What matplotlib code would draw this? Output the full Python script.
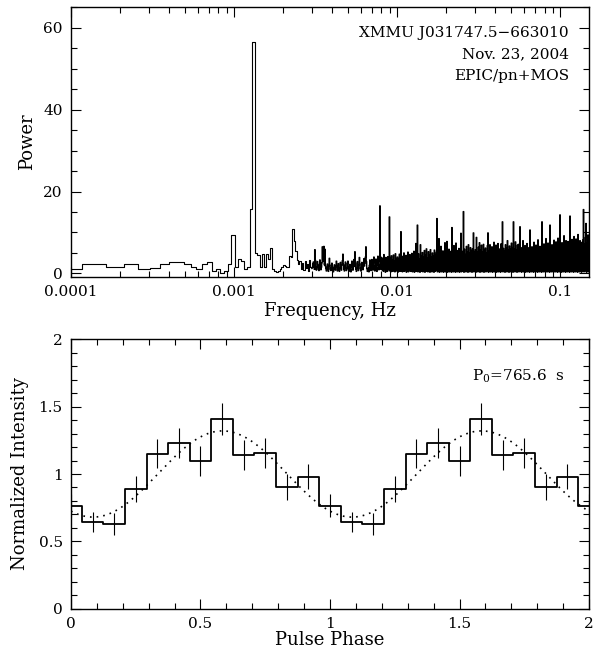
import numpy as np
import matplotlib
matplotlib.use("Agg")
import matplotlib.pyplot as plt
from matplotlib.ticker import MultipleLocator, FuncFormatter, LogLocator, NullFormatter

# ---- style ----
plt.rcParams.update({
    "font.family": "DejaVu Serif",
    "mathtext.fontset": "dejavuserif",
    "font.size": 11,
    "axes.linewidth": 1.0,
    "xtick.direction": "in",
    "ytick.direction": "in",
    "xtick.top": True,
    "ytick.right": True,
    "xtick.major.size": 7.5,
    "ytick.major.size": 7.5,
    "xtick.minor.size": 4,
    "ytick.minor.size": 4,
    "xtick.major.width": 0.8,
    "ytick.major.width": 0.8,
    "xtick.minor.width": 0.8,
    "ytick.minor.width": 0.8,
    "axes.unicode_minus": True,
})

# ---- power spectrum data ----
df = 4.7e-5                      # frequency resolution, Hz
k_lo = np.arange(2, 64)          # low-frequency bins
power_lo = [1.2, 2.3, 1.5, 2.2, 1.0, 1.4, 2.4, 2.9, 2.7, 2.4,
            1.6, 1.0, 2.4, 2.8, 0.7, 1.2, 0.2, 0.5, 2.4, 9.5,
            1.6, 3.6, 3.0, 1.0, 1.6, 15.8, 56.5, 4.9, 4.5, 1.5,
            4.8, 1.5, 4.8, 3.5, 6.2, 1.2, 0.5, 0.3, 0.6, 1.0,
            1.6, 2.0, 1.8, 1.6, 1.6, 4.2, 4.0, 10.8, 8.0, 5.4,
            3.3, 2.4, 3.0, 1.2, 2.6, 0.8, 3.1, 1.3, 2.2, 0.7,
            3.4, 1.6]

# high-frequency part, read at display resolution (log-spaced samples)
f_hi_start, f_hi_stop = 3.0e-3, 0.15
power_hi = [
    1.2, 1.5, 2.4, 2.8, 1.6, 1.0, 5.8, 3.2, 1.1, 0.8, 1.6, 2.9, 2.2, 1.0, 0.7, 1.9, 3.3, 1.4, 0.9, 1.5,
    2.6, 6.5, 3.0, 6.2, 6.6, 2.1, 5.9, 1.8, 1.2, 0.6, 1.4, 2.3, 1.1, 0.5, 1.8, 3.7, 2.0, 1.0, 0.7, 1.3,
    2.5, 1.6, 0.6, 0.4, 1.2, 2.1, 1.5, 0.8, 1.9, 3.0, 1.7, 0.6, 0.9, 2.4, 1.2, 0.5, 1.4, 2.7, 1.3, 0.8,
    2.0, 3.1, 4.7, 2.2, 1.0, 0.6, 1.7, 2.8, 1.4, 0.7, 1.1, 2.5, 3.0, 1.3, 0.5, 1.6, 2.2, 0.9, 0.4, 1.8,
    3.0, 1.5, 0.8, 2.4, 3.4, 1.7, 5.3, 2.6, 1.0, 0.5, 1.3, 2.9, 1.6, 0.7, 2.0, 3.9, 2.3, 1.1, 0.6, 1.4,
    2.7, 1.4, 0.9, 2.2, 3.6, 1.8, 2.5, 4.0, 6.5, 2.9, 1.2, 0.5, 0.9, 1.3, 0.4, 2.0, 3.3, 1.5, 0.7, 1.9,
    3.4, 2.0, 0.8, 2.6, 4.0, 1.9, 0.6, 1.8, 3.5, 1.4, 0.5, 2.3, 4.2, 2.1, 0.9, 3.0, 16.5, 4.1, 1.0, 2.8,
    3.8, 0.8, 3.0, 0.5, 4.6, 1.0, 2.8, 0.3, 3.9, 0.7, 3.3, 0.5, 4.1, 0.9, 2.9, 13.8, 0.6, 3.7, 0.4, 4.3,
    0.8, 3.2, 0.5, 4.5, 0.9, 3.0, 0.4, 4.8, 0.7, 3.4, 0.6, 4.0, 0.3, 3.6, 0.8, 4.7, 0.5, 3.1, 10.2, 0.6,
    4.2, 0.4, 3.5, 0.7, 5.0, 0.5, 3.8, 0.9, 4.4, 0.3, 3.2, 0.6, 5.2, 0.4, 3.9, 0.8, 4.6, 0.5, 3.4, 0.7,
    4.9, 0.4, 3.7, 0.6, 5.4, 0.3, 4.1, 0.7, 7.3, 0.5, 4.3, 11.8, 0.4, 4.8, 0.6, 3.6, 0.3, 7.0, 0.5, 4.2,
    0.7, 5.1, 0.4, 3.9, 0.6, 5.6, 0.3, 4.4, 0.8, 6.0, 0.5, 3.8, 0.4, 5.3, 0.6, 4.5, 0.3, 5.8, 0.7, 4.0,
    0.4, 5.0, 0.6, 4.2, 0.3, 5.7, 0.5, 4.6, 0.7, 5.2, 13.4, 0.4, 4.8, 0.6, 8.5, 0.3, 5.0, 0.5, 6.6, 0.4,
    4.3, 0.6, 5.5, 0.3, 4.7, 0.5, 7.5, 0.4, 5.1, 0.7, 7.8, 0.3, 4.6, 0.5, 5.9, 0.4, 4.9, 0.6, 5.4, 0.3,
    11.2, 0.5, 5.3, 0.4, 6.8, 0.6, 4.5, 0.3, 7.4, 0.5, 5.6, 0.4, 4.9, 0.7, 6.1, 0.3, 5.0, 0.5, 9.8, 0.4,
    5.4, 0.6, 4.8, 15.1, 0.3, 5.9, 0.5, 4.6, 0.4, 6.6, 0.6, 5.2, 0.3, 7.0, 0.5, 4.9, 0.4, 6.3, 0.6, 5.5,
    0.3, 6.0, 0.5, 9.9, 0.4, 5.3, 0.6, 5.8, 0.3, 8.8, 0.5, 5.1, 0.4, 6.4, 0.6, 7.5, 0.3, 5.6, 0.5, 6.9,
    0.4, 5.2, 0.6, 7.1, 0.3, 5.7, 0.5, 6.2, 0.4, 5.0, 0.6, 6.8, 9.9, 0.3, 5.5, 0.5, 7.0, 0.4, 5.3, 0.6,
    6.5, 0.3, 5.8, 0.5, 7.6, 0.4, 5.4, 0.6, 6.9, 0.3, 5.6, 0.5, 7.3, 0.4, 6.0, 0.6, 5.3, 0.3, 7.2, 0.5,
    5.7, 12.6, 0.4, 6.1, 0.6, 5.5, 0.3, 7.0, 0.5, 6.2, 0.4, 8.0, 0.6, 5.6, 0.3, 6.7, 0.5, 5.9, 0.4, 7.4,
    0.6, 6.3, 0.3, 12.6, 0.5, 6.0, 0.4, 7.7, 0.6, 5.8, 0.3, 6.9, 0.5, 7.1, 0.4, 6.2, 11.4, 0.6, 5.9, 0.3,
    6.3, 0.5, 8.0, 0.4, 5.6, 0.6, 6.8, 0.3, 5.3, 0.5, 7.3, 0.4, 5.8, 0.6, 6.3, 0.3, 10.6, 0.5, 5.2, 0.4,
    6.5, 0.6, 5.5, 0.3, 7.6, 0.5, 6.0, 0.4, 6.9, 0.6, 5.4, 0.3, 8.2, 0.5, 6.0, 0.4, 6.6, 0.6, 5.7, 0.3,
    12.6, 0.5, 6.2, 0.4, 7.2, 0.6, 5.9, 0.3, 8.5, 0.5, 6.1, 0.4, 7.4, 0.6, 5.9, 0.3, 11.8, 0.5, 6.4, 0.4,
    7.0, 0.6, 6.5, 0.3, 8.1, 0.5, 6.1, 0.4, 7.7, 0.6, 6.7, 0.3, 8.6, 0.5, 6.3, 0.4, 14.3, 0.6, 6.9, 0.3,
    7.5, 0.5, 6.4, 0.4, 9.2, 0.6, 6.8, 0.3, 8.0, 0.5, 6.6, 0.4, 7.8, 0.6, 7.0, 0.3, 14.0, 0.5, 6.5, 0.4,
    8.3, 0.6, 6.9, 0.3, 9.0, 0.5, 6.7, 0.4, 8.4, 0.6, 7.2, 0.3, 9.5, 0.5, 6.8, 0.4, 8.0, 0.6, 7.4, 0.3,
    7.6, 0.5, 8.2, 15.6, 0.4, 7.1, 0.6, 8.8, 12.2, 0.3, 7.5, 0.5, 9.4, 0.4, 8.1,
]

# ---- pulse profile data (12 phase bins, centred on j/12) ----
n_bins = 12
profile = [0.765, 0.644, 0.631, 0.891, 1.151, 1.230,
           1.097, 1.406, 1.139, 1.158, 0.901, 0.980]
profile_err = [0.085, 0.077, 0.083, 0.097, 0.108, 0.110,
               0.110, 0.120, 0.110, 0.110, 0.097, 0.095]
# sine fit (dotted)
fit_mean, fit_amp, fit_peak = 1.0, 0.32, 0.585

src_lines = ["XMMU J031747.5\u2212663010", "Nov. 23, 2004", "EPIC/pn+MOS"]
period_label = r"P$_0$=765.6  s"

gfmt = FuncFormatter(lambda v, p: f"{v:g}")

fig = plt.figure(figsize=(5.98, 6.52), dpi=100)
ax1 = fig.add_axes([0.1187, 0.5756, 0.8663, 0.4132])
ax2 = fig.add_axes([0.1187, 0.0664, 0.8663, 0.4132])

# ===== top: power spectrum =====
ax1.step(k_lo * df, power_lo, where="mid", color="black", lw=0.8)
f_hi = np.geomspace(f_hi_start, f_hi_stop, len(power_hi))
ax1.step(f_hi, power_hi, where="mid", color="black", lw=1.0)
ax1.set_xscale("log")
ax1.set_xlim(1e-4, 0.15)
ax1.set_ylim(-0.8, 65)
ax1.xaxis.set_major_locator(LogLocator(base=10, numticks=10))
ax1.xaxis.set_minor_locator(LogLocator(base=10, subs=np.arange(2, 10), numticks=20))
ax1.xaxis.set_major_formatter(gfmt)
ax1.xaxis.set_minor_formatter(NullFormatter())
ax1.yaxis.set_major_locator(MultipleLocator(20))
ax1.yaxis.set_minor_locator(MultipleLocator(5))
ax1.yaxis.set_major_formatter(gfmt)
ax1.tick_params(which="both", pad=6)
ax1.set_xlabel("Frequency, Hz", fontsize=13, labelpad=2)
ax1.set_ylabel("Power", fontsize=13, labelpad=5)
for i, s in enumerate(src_lines):
    ax1.text(0.961, 0.905 - 0.08 * i, s, transform=ax1.transAxes,
             ha="right", va="center", fontsize=11)

# ===== bottom: folded light curve =====
phase = np.arange(2 * n_bins + 1) / n_bins
prof2 = np.concatenate([profile, profile, profile[:1]])
err2 = np.concatenate([profile_err, profile_err, profile_err[:1]])
ax2.step(phase, prof2, where="mid", color="black", lw=1.3)
ax2.errorbar(phase, prof2, yerr=err2, fmt="none", ecolor="black",
             elinewidth=0.8, capsize=0)
ph = np.linspace(0, 2, 400)
ax2.plot(ph, fit_mean + fit_amp * np.cos(2 * np.pi * (ph - fit_peak)),
         color="black", lw=1.2, ls=(0, (1, 3)))
ax2.set_xlim(0, 2)
ax2.set_ylim(0, 2)
ax2.xaxis.set_major_locator(MultipleLocator(0.5))
ax2.xaxis.set_minor_locator(MultipleLocator(0.1))
ax2.yaxis.set_major_locator(MultipleLocator(0.5))
ax2.yaxis.set_minor_locator(MultipleLocator(0.1))
ax2.xaxis.set_major_formatter(gfmt)
ax2.yaxis.set_major_formatter(gfmt)
ax2.tick_params(which="both", pad=6)
ax2.set_xlabel("Pulse Phase", fontsize=13, labelpad=0)
ax2.set_ylabel("Normalized Intensity", fontsize=13, labelpad=7)
ax2.text(0.954, 0.864, period_label, transform=ax2.transAxes,
         ha="right", va="center", fontsize=11)

fig.savefig("out.png", dpi=100)
